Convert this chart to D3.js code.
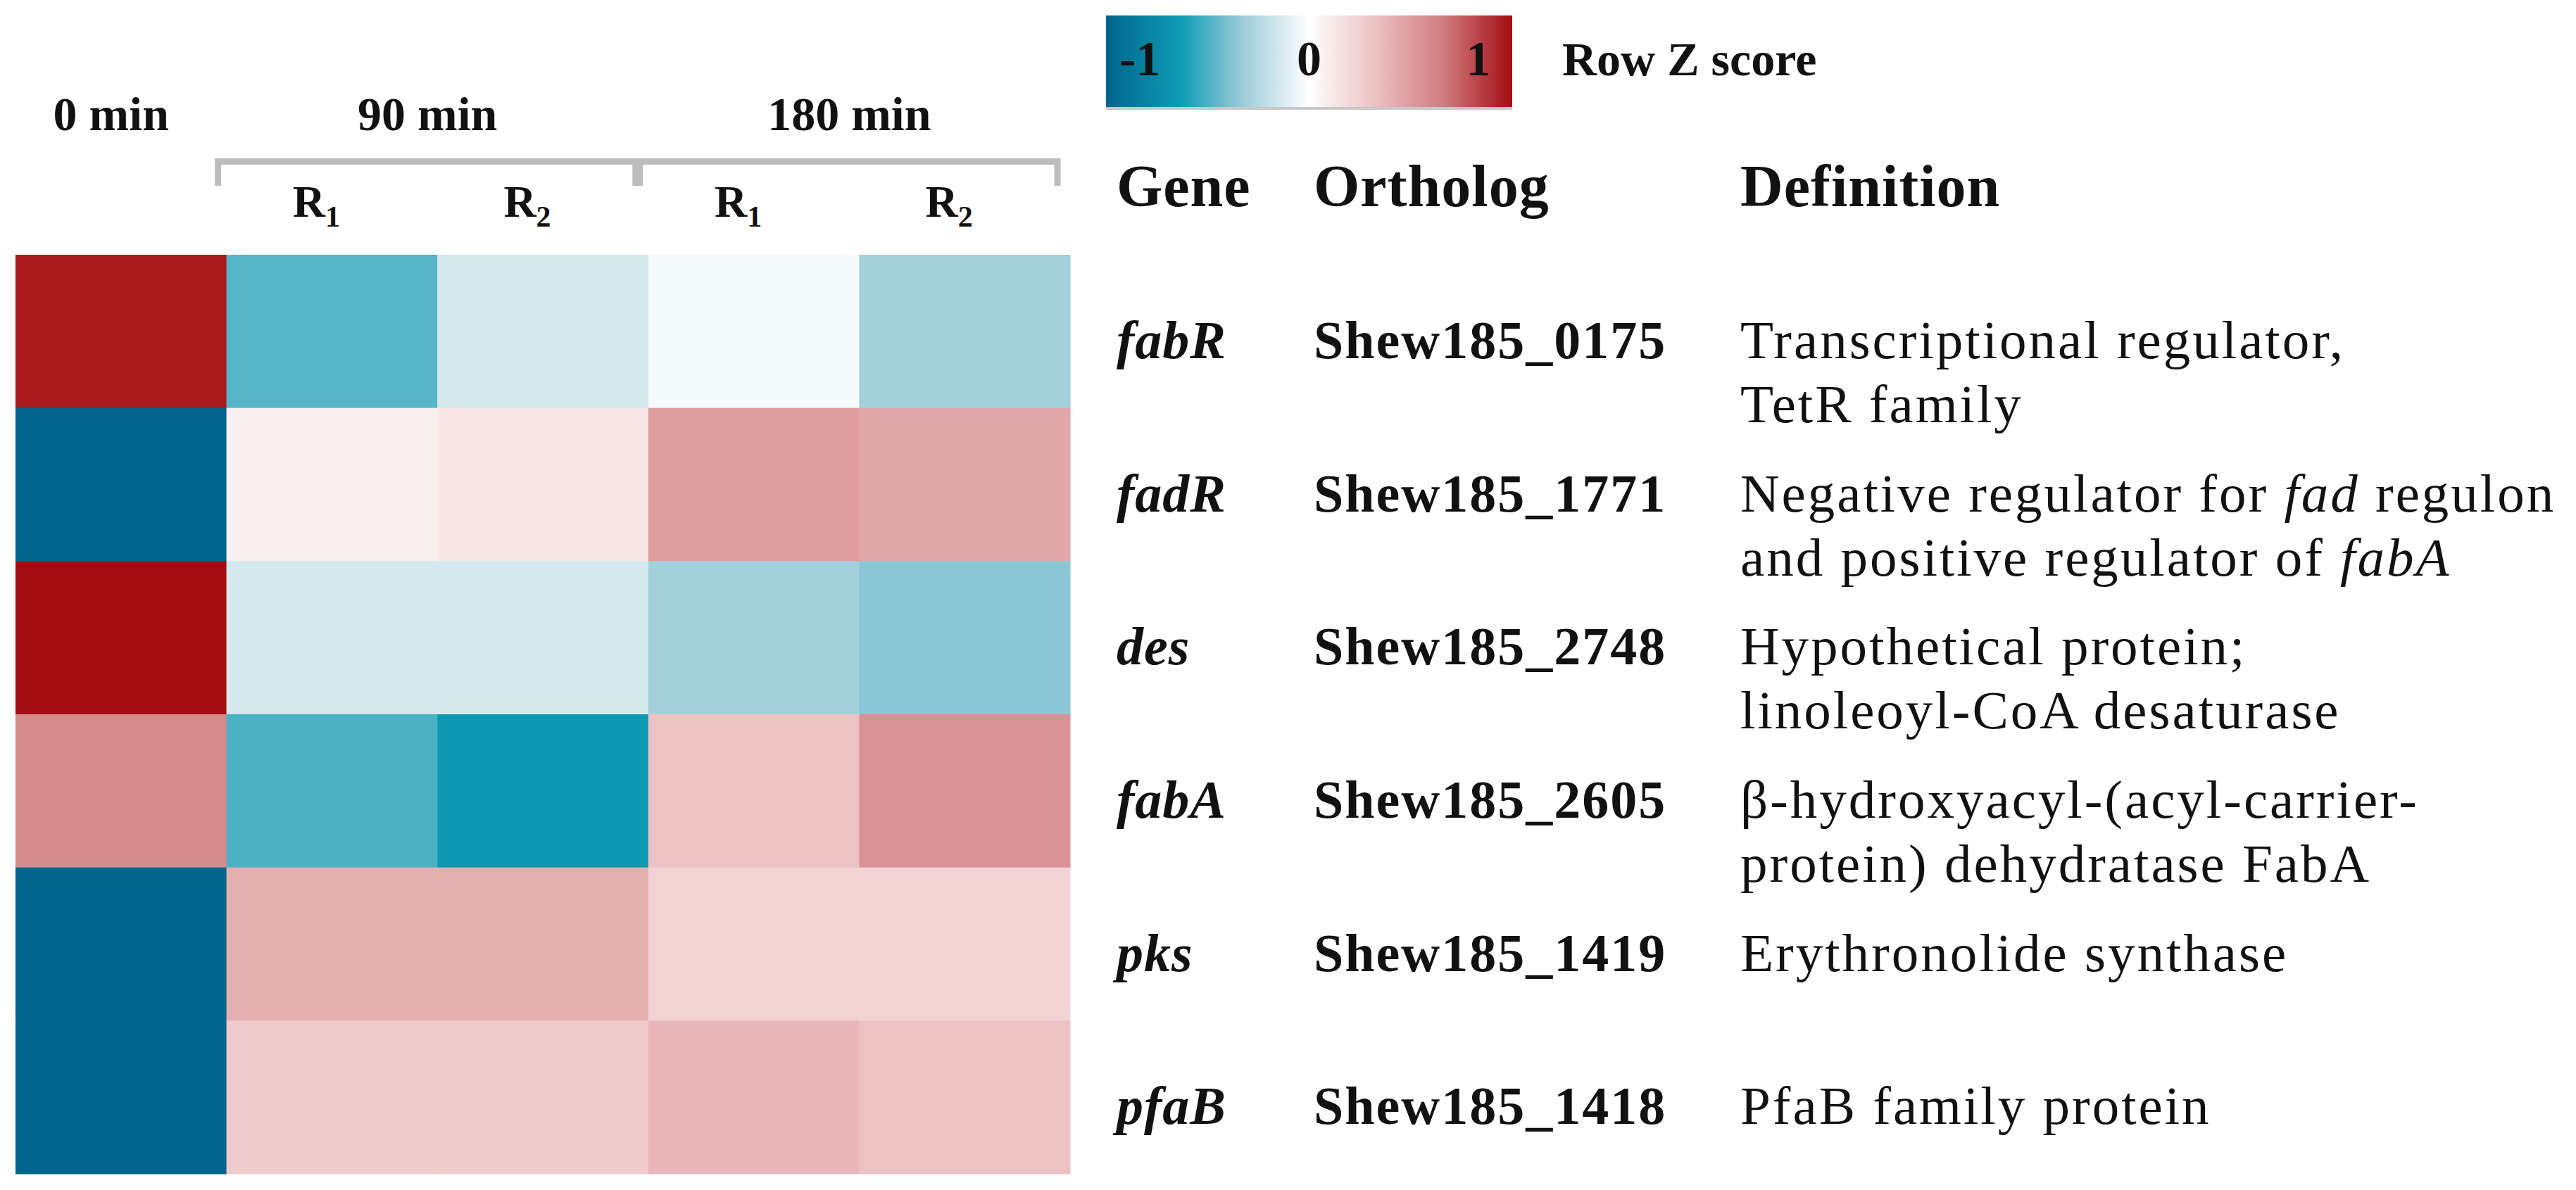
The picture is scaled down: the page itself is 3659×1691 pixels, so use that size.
<!DOCTYPE html>
<html>
<head>
<meta charset="utf-8">
<script src="https://cdn.jsdelivr.net/npm/d3@7"></script>
<style>
  body { margin: 0; background: #fff; }
  text { font-family: "Liberation Serif", "Times New Roman", serif; fill: #111; white-space: pre; }
</style>
</head>
<body>
<div id="chart"></div>
<script>
// heatmap columns (time point / replicate)
var columns = ["0 min", "90 min R1", "90 min R2", "180 min R1", "180 min R2"];
var timeGroups = ["0 min", "90 min", "180 min"];
var groupOfColumn = ["0 min", "90 min", "90 min", "180 min", "180 min"];
var replicateOfColumn = [null, "1", "2", "1", "2"];

// rows
var genes = ["fabR", "fadR", "des", "fabA", "pks", "pfaB"];
var orthologs = ["Shew185_0175", "Shew185_1771", "Shew185_2748", "Shew185_2605", "Shew185_1419", "Shew185_1418"];
// *...* marks italic
var definitions = [
  ["Transcriptional regulator,", "TetR family"],
  ["Negative regulator for *fad* regulon", "and positive regulator of *fabA*"],
  ["Hypothetical protein;", "linoleoyl-CoA desaturase"],
  ["\u03b2-hydroxyacyl-(acyl-carrier-", "protein) dehydratase FabA"],
  ["Erythronolide synthase"],
  ["PfaB family protein"]
];

// row Z scores, one array per gene, in column order
var zFabR = [1.15, -0.57, -0.17, -0.04, -0.36];
var zFadR = [-1.5, 0.10, 0.16, 0.60, 0.54];
var zDes  = [1.35, -0.17, -0.17, -0.36, -0.44];
var zFabA = [0.71, -0.60, -0.78, 0.39, 0.66];
var zPks  = [-1.5, 0.50, 0.50, 0.28, 0.28];
var zPfaB = [-1.5, 0.33, 0.33, 0.45, 0.39];
var zRows = [zFabR, zFadR, zDes, zFabA, zPks, zPfaB];

var legendTicks = [-1, 0, 1];

var W = 3659, H = 1691;
var svg = d3.select("#chart").append("svg")
  .attr("width", W).attr("height", H)
  .attr("viewBox", "0 0 " + W + " " + H);
svg.append("rect").attr("width", W).attr("height", H).attr("fill", "#fff");

var color = d3.scaleLinear()
  .domain([-1.2, -0.75, -0.4, 0, 0.4, 0.8, 1.2])
  .range(["#00658c", "#0f9db5", "#9acbd8", "#ffffff", "#ebc0c1", "#cf7a7d", "#a30d12"])
  .clamp(true);

var x = d3.scaleBand().domain(columns).range([22, 1520]);
var y = d3.scaleBand().domain(genes).range([362, 1668]);

// cells
var cells = [];
zRows.forEach(function(row, i) {
  row.forEach(function(v, j) {
    cells.push({gene: genes[i], col: columns[j], value: v});
  });
});

svg.append("g").selectAll("rect")
  .data(cells)
  .enter().append("rect")
    .attr("x", function(d) { return x(d.col); })
    .attr("y", function(d) { return y(d.gene); })
    .attr("width", x.bandwidth() + 0.5)
    .attr("height", y.bandwidth() + 0.5)
    .attr("fill", function(d) { return color(d.value); });

// time point labels and brackets
var head = svg.append("g");
timeGroups.forEach(function(g) {
  var cols = columns.filter(function(c, j) { return groupOfColumn[j] == g; });
  var x0 = x(cols[0]), x1 = x(cols[cols.length - 1]) + x.bandwidth();
  head.append("text")
    .attr("x", (x0 + x1) / 2 - 14)
    .attr("y", 185)
    .attr("text-anchor", "middle")
    .style("font-size", "68px")
    .style("font-weight", "bold")
    .text(g);
  if (cols.length > 1) {
    head.append("path")
      .attr("d", "M" + (x0 - 12) + ",264V229.5H" + (x1 - 18) + "V264")
      .attr("fill", "none")
      .attr("stroke", "#bdbdbd")
      .attr("stroke-width", 9);
  }
});

columns.forEach(function(c, j) {
  if (!replicateOfColumn[j]) return;
  var t = head.append("text")
    .attr("x", x(c) + x.bandwidth() / 2 - 22)
    .attr("y", 308)
    .attr("text-anchor", "middle")
    .style("font-size", "64px")
    .style("font-weight", "bold");
  t.append("tspan").text("R");
  t.append("tspan").attr("dy", 14).style("font-size", "42px").text(replicateOfColumn[j]);
});

// colour key
var lx = d3.scaleLinear().domain([-1.2, 1.2]).range([1571, 2148]);
var grad = svg.append("defs").append("linearGradient").attr("id", "zgrad");
color.domain().forEach(function(d) {
  grad.append("stop")
    .attr("offset", (lx(d) - lx.range()[0]) / (lx.range()[1] - lx.range()[0]))
    .attr("stop-color", color(d));
});
svg.append("rect")
  .attr("x", lx.range()[0]).attr("y", 26)
  .attr("width", lx.range()[1] - lx.range()[0]).attr("height", 130)
  .attr("fill", "#9a9a9a").attr("opacity", 0.55);
svg.append("rect")
  .attr("x", lx.range()[0]).attr("y", 22)
  .attr("width", lx.range()[1] - lx.range()[0]).attr("height", 130)
  .attr("fill", "url(#zgrad)");
svg.append("g").selectAll("text")
  .data(legendTicks)
  .enter().append("text")
    .attr("x", function(d) { return lx(d); })
    .attr("y", 107)
    .attr("text-anchor", "middle")
    .style("font-size", "70px")
    .style("font-weight", "bold")
    .text(function(d) { return d; });
svg.append("text")
  .attr("x", 2219).attr("y", 107)
  .style("font-size", "68px")
  .style("font-weight", "bold")
  .text("Row Z score");

// gene table
var colGene = 1586, colOrth = 1866, colDef = 2472, lineGap = 91;
var table = svg.append("g");
[["Gene", colGene], ["Ortholog", colOrth], ["Definition", colDef]].forEach(function(h) {
  table.append("text")
    .attr("x", h[1]).attr("y", 293)
    .style("font-size", "84px")
    .style("font-weight", "bold")
    .style("letter-spacing", "1px")
    .text(h[0]);
});

genes.forEach(function(g, i) {
  var base = y(g) + y.bandwidth() / 2 + 38;
  table.append("text")
    .attr("x", colGene).attr("y", base)
    .style("font-size", "76px")
    .style("font-weight", "bold")
    .style("font-style", "italic")
    .style("letter-spacing", "1px")
    .text(g);
  table.append("text")
    .attr("x", colOrth).attr("y", base)
    .style("font-size", "76px")
    .style("font-weight", "bold")
    .style("letter-spacing", "2px")
    .text(orthologs[i]);
  definitions[i].forEach(function(line, k) {
    var t = table.append("text")
      .attr("x", colDef).attr("y", base + k * lineGap)
      .style("font-size", "77px")
      .style("letter-spacing", "3px");
    line.split("*").forEach(function(part, p) {
      if (!part) return;
      t.append("tspan")
        .style("font-style", p % 2 ? "italic" : "normal")
        .text(part);
    });
  });
});
</script>
</body>
</html>
